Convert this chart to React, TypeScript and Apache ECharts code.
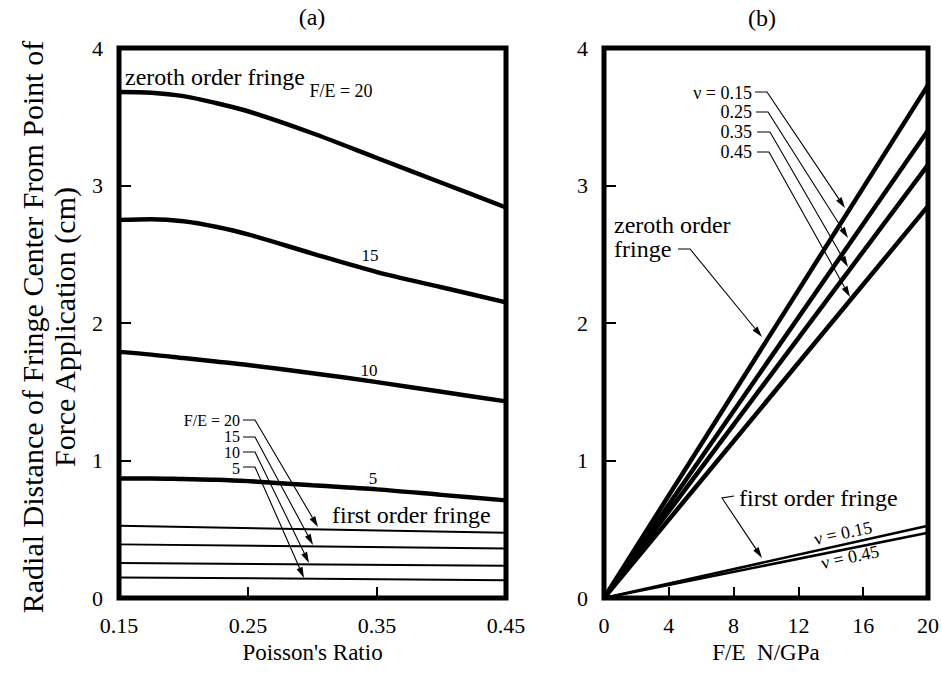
import React, { useEffect, useRef } from "react";
import * as echarts from "echarts";

// ---------- Panel (a): radial distance vs Poisson's ratio ----------
const poissonRatios = [0.15, 0.175, 0.2, 0.225, 0.25, 0.3, 0.35, 0.4, 0.45];
const zerothFE20 = [3.68, 3.675, 3.65, 3.6, 3.54, 3.38, 3.2, 3.02, 2.84];
const zerothFE15 = [2.75, 2.755, 2.74, 2.7, 2.645, 2.505, 2.37, 2.26, 2.15];
const zerothFE10 = [1.79, 1.77, 1.745, 1.72, 1.695, 1.635, 1.57, 1.5, 1.43];
const zerothFE5 = [0.87, 0.87, 0.865, 0.86, 0.85, 0.82, 0.79, 0.75, 0.71];

const poissonEnds = [0.15, 0.45];
const firstFE20 = [0.525, 0.475];
const firstFE15 = [0.39, 0.36];
const firstFE10 = [0.255, 0.235];
const firstFE5 = [0.15, 0.13];

const poissonTicks = ["0.15", "0.25", "0.35", "0.45"];

// ---------- Panel (b): radial distance vs F/E ----------
const forceRatios = [0, 20];
const zerothNu015 = [0, 3.73];
const zerothNu025 = [0, 3.4];
const zerothNu035 = [0, 3.15];
const zerothNu045 = [0, 2.85];
const firstNu015 = [0, 0.525];
const firstNu045 = [0, 0.475];

const forceTicks = ["0", "4", "8", "12", "16", "20"];
const radialTicks = ["0", "1", "2", "3", "4"];

const FONT = "Liberation Serif, serif";

function pairs(xs: number[], ys: number[]) {
  return xs.map((x, i) => [x, ys[i]]);
}

function txt(x: number, y: number, text: string, size: number, align = "left", rotation = 0, lineHeight?: number) {
  return {
    type: "text",
    x,
    y,
    rotation,
    silent: true,
    style: {
      text,
      fill: "#000",
      fontSize: size,
      fontFamily: FONT,
      lineHeight: lineHeight ?? Math.round(size * 1.15),
      align,
      verticalAlign: "middle",
    },
  };
}

function arrow(pts: number[][], head = 11, half = 3.2) {
  const n = pts.length;
  const [tx, ty] = pts[n - 1];
  const [px, py] = pts[n - 2];
  const dx = tx - px;
  const dy = ty - py;
  const len = Math.hypot(dx, dy);
  const ux = dx / len;
  const uy = dy / len;
  const bx = tx - ux * head;
  const by = ty - uy * head;
  const shaft = pts.slice(0, n - 1).concat([[bx, by]]);
  return [
    {
      type: "polyline",
      silent: true,
      shape: { points: shaft },
      style: { stroke: "#000", lineWidth: 1.1, fill: null },
    },
    {
      type: "polygon",
      silent: true,
      shape: {
        points: [
          [tx, ty],
          [bx - uy * half, by + ux * half],
          [bx + uy * half, by - ux * half],
        ],
      },
      style: { fill: "#000" },
    },
  ];
}

export default function App() {
  const ref = useRef<HTMLDivElement>(null);

  useEffect(() => {
    if (!ref.current) return;
    const chart = echarts.init(ref.current, null, { renderer: "svg" });

    const tickStyle = { inside: true, length: 11, lineStyle: { color: "#000", width: 2 } };
    const labelStyle = { color: "#000", fontSize: 22, fontFamily: FONT };
    const nameStyle = { color: "#000", fontSize: 23, fontFamily: FONT };

    const thick = (name: string, xi: number, data: number[][], smooth: boolean | number) => ({
      name,
      type: "line",
      xAxisIndex: xi,
      yAxisIndex: xi,
      data,
      smooth,
      showSymbol: false,
      symbol: "none",
      lineStyle: { color: "#000", width: 4.5 },
      silent: true,
    });
    const thin = (name: string, xi: number, data: number[][], w = 2) => ({
      name,
      type: "line",
      xAxisIndex: xi,
      yAxisIndex: xi,
      data,
      showSymbol: false,
      symbol: "none",
      lineStyle: { color: "#000", width: w },
      silent: true,
    });

    const graphic: any[] = [
      txt(312, 17, "(a)", 24, "center"),
      txt(762, 18, "(b)", 24, "center"),
      txt(48, 327, "Radial Distance of Fringe Center From Point of\nForce Application (cm)", 30, "center", Math.PI / 2, 32),
      // panel (a) annotations
      txt(125, 77, "zeroth order fringe", 24, "left"),
      txt(341, 91, "F/E = 20", 18, "center", 0, 16),
      txt(370, 255, "15", 17, "center"),
      txt(369, 370, "10", 17, "center"),
      txt(373, 478, "5", 17, "center"),
      txt(332, 515, "first order fringe", 24, "left"),
      txt(240, 420, "F/E = 20", 16, "right", 0, 14),
      txt(240, 436, "15", 16, "right", 0, 14),
      txt(240, 452, "10", 16, "right", 0, 14),
      txt(240, 468, "5", 16, "right", 0, 14),
      ...arrow([[243, 420], [255, 420], [318, 527]]),
      ...arrow([[243, 437], [255, 437], [313, 545]]),
      ...arrow([[243, 452], [255, 452], [309, 563]]),
      ...arrow([[243, 467], [255, 467], [304, 578]]),
      // panel (b) annotations
      txt(752, 93, "ν = 0.15", 18, "right", 0, 16),
      txt(752, 112, "0.25", 18, "right", 0, 16),
      txt(752, 132, "0.35", 18, "right", 0, 16),
      txt(752, 152, "0.45", 18, "right", 0, 16),
      ...arrow([[755, 92], [767, 92], [845, 208]]),
      ...arrow([[756, 112], [768, 112], [848, 238]]),
      ...arrow([[757, 132], [770, 132], [848, 267]]),
      ...arrow([[757, 152], [769, 152], [850, 297]]),
      txt(614, 225, "zeroth order", 24, "left"),
      txt(614, 249, "fringe", 24, "left"),
      ...arrow([[678, 249], [690, 249], [762, 337]]),
      txt(739, 498, "first order fringe", 24, "left"),
      ...arrow([[734, 496], [722, 498], [762, 558]]),
      txt(843, 533, "ν = 0.15", 18, "center", 0.21),
      txt(850, 557, "ν = 0.45", 18, "center", 0.21),
    ];

    chart.setOption({
      animation: false,
      backgroundColor: "#fff",
      textStyle: { fontFamily: FONT },
      grid: [
        { left: 119, top: 48, width: 387, height: 550, show: true, borderColor: "#000", borderWidth: 5, backgroundColor: "transparent" },
        { left: 604, top: 48, width: 324, height: 550, show: true, borderColor: "#000", borderWidth: 5, backgroundColor: "transparent" },
      ],
      xAxis: [
        {
          gridIndex: 0,
          type: "value",
          min: 0.15,
          max: 0.45,
          interval: 0.1,
          axisLine: { show: false },
          axisTick: tickStyle,
          splitLine: { show: false },
          axisLabel: {
            ...labelStyle,
            margin: 16,
            formatter: (v: number) => poissonTicks[Math.round((v - 0.15) / 0.1)] ?? "",
          },
          name: "Poisson's Ratio",
          nameLocation: "middle",
          nameGap: 40,
          nameTextStyle: nameStyle,
        },
        {
          gridIndex: 1,
          type: "value",
          min: 0,
          max: 20,
          interval: 4,
          axisLine: { show: false },
          axisTick: tickStyle,
          splitLine: { show: false },
          axisLabel: {
            ...labelStyle,
            margin: 16,
            formatter: (v: number) => forceTicks[Math.round(v / 4)] ?? "",
          },
          name: "F/E  N/GPa",
          nameLocation: "middle",
          nameGap: 40,
          nameTextStyle: nameStyle,
        },
      ],
      yAxis: [0, 1].map((gi) => ({
        gridIndex: gi,
        type: "value",
        min: 0,
        max: 4,
        interval: 1,
        axisLine: { show: false },
        axisTick: { inside: true, length: 12, lineStyle: { color: "#000", width: 2 } },
        splitLine: { show: false },
        axisLabel: {
          ...labelStyle,
          margin: 16,
          formatter: (v: number) => radialTicks[Math.round(v)] ?? "",
        },
      })),
      series: [
        thick("zeroth F/E=20", 0, pairs(poissonRatios, zerothFE20), 0.3),
        thick("zeroth F/E=15", 0, pairs(poissonRatios, zerothFE15), 0.3),
        thick("zeroth F/E=10", 0, pairs(poissonRatios, zerothFE10), 0.3),
        thick("zeroth F/E=5", 0, pairs(poissonRatios, zerothFE5), 0.3),
        thin("first F/E=20", 0, pairs(poissonEnds, firstFE20)),
        thin("first F/E=15", 0, pairs(poissonEnds, firstFE15)),
        thin("first F/E=10", 0, pairs(poissonEnds, firstFE10)),
        thin("first F/E=5", 0, pairs(poissonEnds, firstFE5)),
        thick("zeroth ν=0.15", 1, pairs(forceRatios, zerothNu015), false),
        thick("zeroth ν=0.25", 1, pairs(forceRatios, zerothNu025), false),
        thick("zeroth ν=0.35", 1, pairs(forceRatios, zerothNu035), false),
        thick("zeroth ν=0.45", 1, pairs(forceRatios, zerothNu045), false),
        thin("first ν=0.15", 1, pairs(forceRatios, firstNu015), 2.5),
        thin("first ν=0.45", 1, pairs(forceRatios, firstNu045), 2.5),
      ],
      graphic,
    });

    return () => chart.dispose();
  }, []);

  return <div ref={ref} style={{ width: 942, height: 675, position: "absolute", left: 0, top: 0 }} />;
}
